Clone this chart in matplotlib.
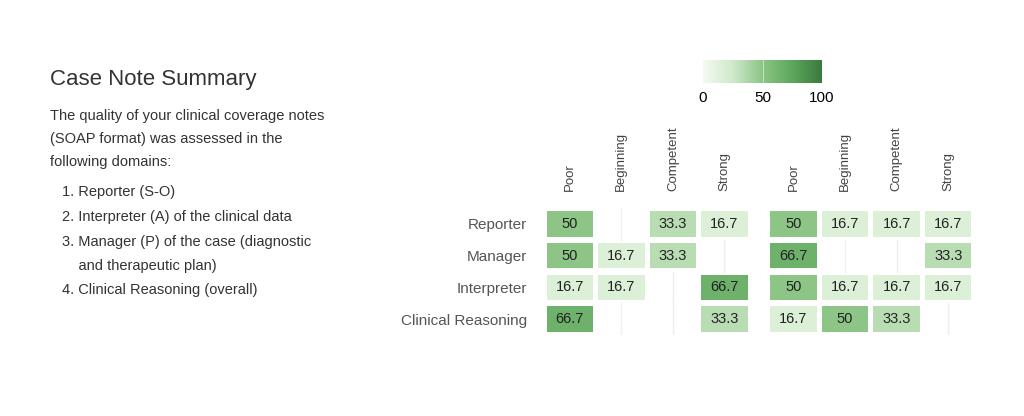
import numpy as np
import matplotlib.pyplot as plt
from matplotlib.colors import LinearSegmentedColormap

rows = ["Reporter", "Manager", "Interpreter", "Clinical Reasoning"]
cols = ["Poor", "Beginning", "Competent", "Strong"] * 2
values = [
    [50, 0, 33.3, 16.7, 50, 16.7, 16.7, 16.7],
    [50, 16.7, 33.3, 0, 66.7, 0, 0, 33.3],
    [16.7, 16.7, 0, 66.7, 50, 16.7, 16.7, 16.7],
    [66.7, 0, 0, 33.3, 16.7, 50, 33.3, 0],
]
cbar_ticks = [0, 50, 100]

cmap = LinearSegmentedColormap.from_list("g", ["#f4faf1", "#cfe9ca", "#8cc585", "#5ea75e", "#3a7a3e"])

fig = plt.figure(figsize=(10.24, 4.16), dpi=100)
plt.rcParams['font.family'] = ['Liberation Sans', 'DejaVu Sans']

# left text
fig.text(50/1024, 1-80/416, "Case Note Summary", fontsize=16, color="#333333", va="center")
para = ["The quality of your clinical coverage notes",
        "(SOAP format) was assessed in the",
        "following domains:"]
for k, line in enumerate(para):
    fig.text(50/1024, 1-(116+23*k)/416, line, fontsize=10.5, color="#333333", va="center")
items = ["1. Reporter (S-O)", "2. Interpreter (A) of the clinical data",
         "3. Manager (P) of the case (diagnostic", "    and therapeutic plan)",
         "4. Clinical Reasoning (overall)"]
ys = [192, 217, 242, 266, 290]
for line, y in zip(items, ys):
    fig.text(62/1024, 1-y/416, line, fontsize=10.5, color="#333333", va="center")

# heatmap
ax = fig.add_axes([544/1024, 81/416, 430/1024, 127/416])
gap = 0.34
xs = [i + (gap if i >= 4 else 0) for i in range(len(cols))]
for r, rowvals in enumerate(values):
    for c, v in enumerate(rowvals):
        x = xs[c]
        if v == 0:
            ax.plot([x, x], [r - 0.5, r + 0.5], color="#eeeeee", lw=1, zorder=0)
            continue
        ax.add_patch(plt.Rectangle((x - 0.45, r - 0.4), 0.9, 0.8,
                                   facecolor=cmap(v / 100), edgecolor="none"))
        ax.text(x, r, f"{v:g}", ha="center", va="center", fontsize=10.5, color="#222222")
ax.set_xlim(xs[0] - 0.5, xs[-1] + 0.5)
ax.set_ylim(len(rows) - 0.5, -0.5)
ax.set_xticks(xs)
ax.set_xticklabels(cols, rotation=90, fontsize=9.5, color="#444444")
ax.xaxis.tick_top()
ax.set_yticks(range(len(rows)))
ax.set_yticklabels(rows, fontsize=11, color="#555555")
ax.tick_params(length=0, pad=12)
for s in ax.spines.values():
    s.set_visible(False)

# colorbar
cax = fig.add_axes([703/1024, 1-83/416, 119/1024, 23/416])
cax.imshow(np.linspace(0, 100, 200)[None, :], aspect="auto", cmap=cmap,
           extent=[0, 100, 0, 1], vmin=0, vmax=100)
cax.axvline(50, color="white", lw=0.6, alpha=0.6)
cax.set_yticks([])
cax.set_xticks(cbar_ticks)
cax.tick_params(length=0, labelsize=11, pad=6)
for s in cax.spines.values():
    s.set_visible(False)

plt.savefig("out.png", dpi=100)
